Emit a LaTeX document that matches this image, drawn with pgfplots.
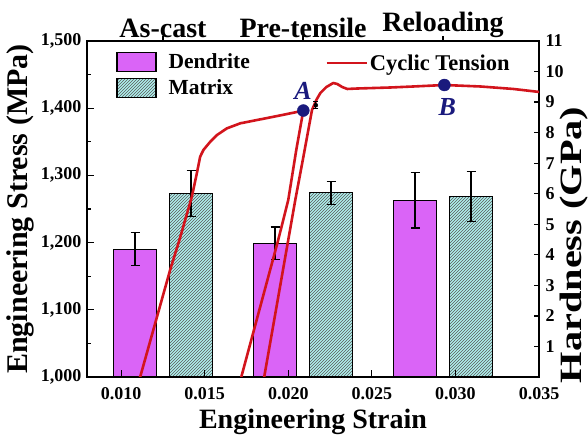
\documentclass[border=0pt]{standalone}
\usepackage{fontspec}
\setmainfont{Liberation Serif}
\usepackage{pgfplots}
\pgfplotsset{compat=1.18}
\usetikzlibrary{patterns}
\definecolor{dend}{RGB}{218,100,247}
\definecolor{matr}{RGB}{175,240,238}
\definecolor{curvec}{RGB}{210,20,28}
\definecolor{navyc}{RGB}{26,26,125}
\newcommand{\fs}[1]{\fontsize{#1}{#1}\selectfont\bfseries}
\pgfplotsset{
  /pgf/number format/assume math mode=true,
  every axis/.append style={
    scale only axis, width=452pt, height=336pt,
    at={(0,0)}, anchor=south west,
    axis line style={-, line width=1.4pt, black},
    tick align=inside,
    tick style={black, line width=1.2pt},
  }
}
\begin{document}
\begin{tikzpicture}
\path[use as bounding box] (-87pt,-58pt) rectangle (501pt,377pt);

% ---------- bar axis (hardness) ----------
\begin{axis}[
  xmin=0, xmax=452, ymin=0, ymax=11,
  xtick={76,216,356},
  xticklabels={As-cast,Pre-tensile,Reloading},
  xtick pos=right, xticklabel pos=right,
  xticklabel style={font=\fs{28}, yshift=-5pt},
  ytick={1,2,3,4,5,6,7,8,9,10,11},
  ytick pos=right, yticklabel pos=right,
  yticklabel style={font=\fs{18}, xshift=3pt},
  major tick length=5pt,
  ylabel={\scalebox{1.3}[1]{Hardness (GPa)}},
  ylabel style={font=\fs{31}, at={(axis description cs:1.078,0.393)}, anchor=center},
  ybar, bar width=43, bar shift=0pt,
  legend cell align=left,
  legend style={at={(axis description cs:0.058,0.975)}, anchor=north west,
    draw=none, fill=none, font=\fs{21.5}, row sep=6pt,
    nodes={inner sep=2pt},
    /tikz/every odd column/.append style={column sep=10pt}},
  legend image code/.code={\draw[#1] (0pt,-9.5pt) rectangle (39pt,9.5pt);},
]
\addplot[fill=dend, draw=black, line width=1.2pt,
  error bars/.cd, y dir=both, y explicit, error mark=|,
  error bar style={black, line width=1.2pt},
  error mark options={black, line width=1.2pt, mark size=4.5pt}]
  coordinates {(48,4.18) +- (0,0.54) (188,4.38) +- (0,0.53) (328,5.79) +- (0,0.91)};
\addlegendentry{Dendrite}
\addplot[fill=matr, draw=black, line width=1.2pt,
  postaction={pattern=north east lines, pattern color=black!65},
  error bars/.cd, y dir=both, y explicit, error mark=|,
  error bar style={black, line width=1.2pt},
  error mark options={black, line width=1.2pt, mark size=4.5pt}]
  coordinates {(104,6.01) +- (0,0.75) (244,6.03) +- (0,0.38) (384,5.90) +- (0,0.82)};
\addlegendentry{Matrix}
\end{axis}

% ---------- stress-strain axis ----------
\begin{axis}[
  xmin=0.00796, xmax=0.035, ymin=1000, ymax=1500,
  xtick={0.010,0.015,0.020,0.025,0.030,0.035},
  xtick pos=left, xticklabel pos=left,
  scaled x ticks=false,
  xticklabel style={font=\fs{18}, yshift=-7pt, /pgf/number format/.cd, fixed, fixed zerofill, precision=3},
  ytick={1000,1100,1200,1300,1400,1500},
  minor ytick={1050,1150,1250,1350,1450},
  ytick pos=left, yticklabel pos=left,
  yticklabel style={font=\fs{18}, xshift=-2pt, /pgf/number format/.cd, 1000 sep={,}},
  major tick length=7pt, minor tick length=4pt,
  xlabel={Engineering Strain},
  xlabel style={font=\fs{28}, yshift=-2pt},
  ylabel={Engineering Stress (MPa)},
  ylabel style={font=\fs{30}},
  legend style={at={(axis description cs:0.52,0.934)}, anchor=west,
    draw=none, fill=none, font=\fs{22.5}},
  legend image code/.code={\draw[#1] (0pt,0pt) -- (40pt,0pt);},
]
\addplot[curvec, line width=2.6pt, line join=round] coordinates {
(0.00940,950) (0.01114,1000) (0.01293,1159) (0.01349,1204) (0.01423,1268)
(0.01453,1303) (0.01473,1328) (0.01493,1338) (0.01533,1350) (0.01573,1360)
(0.01633,1370) (0.01713,1377.5) (0.01813,1382.4) (0.01912,1387.3) (0.02032,1393.3)
(0.02090,1396.5)
(0.02048,1338) (0.02000,1263.4) (0.01940,1204) (0.01719,1000) (0.01665,950)
(0.01820,950) (0.01856,1000) (0.02000,1204) (0.02042,1263.4) (0.02090,1327)
(0.02142,1397.3) (0.02168,1412.2) (0.02192,1422.6) (0.02228,1431.5) (0.02269,1437.5)
(0.02293,1436) (0.02323,1431.5) (0.02353,1428.6) (0.02413,1429.3) (0.02611,1430.8)
(0.02748,1432.3) (0.02934,1434.5) (0.03150,1432.3) (0.03347,1428.6) (0.03503,1424.1)
};
\addlegendentry{Cyclic Tension}
\addplot[forget plot, only marks, mark=none,
  error bars/.cd, y dir=both, y explicit, error mark=|,
  error bar style={black, line width=1.2pt},
  error mark options={black, line width=1.2pt, mark size=2.5pt}]
  coordinates {(0.02165,1404.5) +- (0,5)};
\addplot[forget plot, only marks, mark=*, mark size=6pt, navyc] coordinates {
(0.02090,1396.5) (0.02934,1434.5)};
\node[text=navyc, font=\fs{26}\itshape] at (axis cs:0.02089,1426) {A};
\node[text=navyc, font=\fs{26}\itshape] at (axis cs:0.02952,1401.8) {B};
\end{axis}
\end{tikzpicture}
\end{document}
